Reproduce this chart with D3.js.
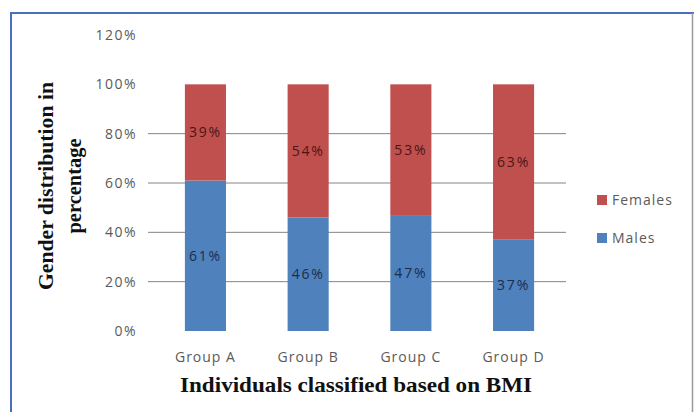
<!DOCTYPE html>
<html>
<head>
<meta charset="utf-8">
<script src="https://cdn.jsdelivr.net/npm/d3@7"></script>
<style>
  body { margin: 0; background: #fff; }
  svg { display: block; }
</style>
</head>
<body>
<svg id="chart"></svg>
<script>
var groups = ["Group A", "Group B", "Group C", "Group D"];
var males = [61, 46, 47, 37];
var females = [39, 54, 53, 63];
var seriesNames = ["Males", "Females"];
var yTicks = [0, 20, 40, 60, 80, 100, 120];
var gridTicks = [20, 40, 60, 80];

var width = 694, height = 412;
var margin = {top: 35, right: 126, bottom: 81, left: 151};

var svg = d3.select("#chart")
  .attr("width", width)
  .attr("height", height);

// frame
svg.append("line").attr("x1", 11).attr("x2", 11).attr("y1", 13).attr("y2", height)
  .attr("stroke", "#4a6fbf").attr("stroke-width", 2);
svg.append("line").attr("x1", 10).attr("x2", 694).attr("y1", 13).attr("y2", 13)
  .attr("stroke", "#4a6fbf").attr("stroke-width", 2);
svg.append("line").attr("x1", 692.5).attr("x2", 692.5).attr("y1", 13).attr("y2", height)
  .attr("stroke", "#9a9a9a").attr("stroke-width", 1.5);

var x = d3.scaleBand()
  .domain(groups)
  .range([margin.left, width - margin.right])
  .paddingInner(0.6)
  .paddingOuter(0.33);

var y = d3.scaleLinear()
  .domain([0, 120])
  .range([height - margin.bottom, margin.top]);

var color = d3.scaleOrdinal()
  .domain(seriesNames)
  .range(["#4f81bd", "#c0504d"]);

// gridlines
svg.append("g")
  .selectAll("line")
  .data(gridTicks)
  .enter().append("line")
    .attr("x1", 148)
    .attr("x2", 566)
    .attr("y1", function(d) { return y(d); })
    .attr("y2", function(d) { return y(d); })
    .attr("stroke", "#848484")
    .attr("stroke-width", 1);

// y axis labels
var yAxis = d3.axisLeft(y)
  .tickValues(yTicks)
  .tickSize(0)
  .tickPadding(0)
  .tickFormat(function(d) { return d + "%"; });

var yg = svg.append("g")
  .attr("transform", "translate(137,0)")
  .call(yAxis);
yg.select(".domain").remove();
yg.selectAll("text")
  .attr("font-family", "Open Sans, sans-serif")
  .attr("font-size", 14)
  .attr("letter-spacing", 1.5)
  .attr("fill", "#5a5a5a");

// stacked bars
var table = groups.map(function(g, i) {
  return {group: g, Males: males[i], Females: females[i]};
});
var stack = d3.stack().keys(seriesNames)(table);

var layer = svg.append("g")
  .selectAll("g")
  .data(stack)
  .enter().append("g")
    .attr("fill", function(d) { return color(d.key); });

layer.selectAll("rect")
  .data(function(d) { return d; })
  .enter().append("rect")
    .attr("x", function(d) { return x(d.data.group); })
    .attr("y", function(d) { return y(d[1]); })
    .attr("width", x.bandwidth())
    .attr("height", function(d) { return y(d[0]) - y(d[1]); });

// data labels
layer.each(function(s) {
  d3.select(this).selectAll("text")
    .data(s)
    .enter().append("text")
      .attr("x", function(d) { return x(d.data.group) + x.bandwidth() / 2; })
      .attr("y", function(d) { return y((d[0] + d[1]) / 2); })
      .attr("dy", "0.35em")
      .attr("text-anchor", "middle")
      .attr("font-family", "Open Sans, sans-serif")
      .attr("font-size", 14)
      .attr("letter-spacing", 1.8)
      .attr("fill", s.key == "Males" ? "#1c2c4c" : "#4a1616")
      .text(function(d) { return (d[1] - d[0]) + "%"; });
});

// x axis labels
var xAxis = d3.axisBottom(x).tickSize(0).tickPadding(0);
var xg = svg.append("g")
  .attr("transform", "translate(0,352)")
  .call(xAxis);
xg.select(".domain").remove();
xg.selectAll("text")
  .attr("font-family", "Open Sans, sans-serif")
  .attr("font-size", 14)
  .attr("letter-spacing", 1)
  .attr("fill", "#5a5a5a");

// axis titles
svg.append("text")
  .attr("x", 356)
  .attr("y", 392)
  .attr("text-anchor", "middle")
  .attr("font-family", "Liberation Serif, serif")
  .attr("font-weight", "bold")
  .attr("font-size", 22)
  .attr("textLength", 352)
  .attr("lengthAdjust", "spacingAndGlyphs")
  .attr("fill", "#111")
  .text("Individuals classified based on BMI");

var yTitleLines = [
  {text: "Gender distribution in", x: 53, len: 208},
  {text: "percentage", x: 81, len: 95}
];
svg.selectAll(".y-title")
  .data(yTitleLines)
  .enter().append("text")
    .attr("class", "y-title")
    .attr("transform", function(d) { return "translate(" + d.x + ",186) rotate(-90)"; })
    .attr("text-anchor", "middle")
    .attr("font-family", "Liberation Serif, serif")
    .attr("font-weight", "bold")
    .attr("font-size", 22)
    .attr("textLength", function(d) { return d.len; })
    .attr("lengthAdjust", "spacingAndGlyphs")
    .attr("fill", "#111")
    .text(function(d) { return d.text; });

// legend
var legend = svg.append("g")
  .selectAll("g")
  .data(["Females", "Males"])
  .enter().append("g")
    .attr("transform", function(d, i) { return "translate(597," + (195 + i * 38) + ")"; });

legend.append("rect")
  .attr("width", 10)
  .attr("height", 10)
  .attr("fill", function(d) { return color(d); });

legend.append("text")
  .attr("x", 15)
  .attr("y", 10)
  .attr("font-family", "Open Sans, sans-serif")
  .attr("font-size", 14)
  .attr("letter-spacing", 1)
  .attr("fill", "#5a5a5a")
  .text(function(d) { return d; });
</script>
</body>
</html>
